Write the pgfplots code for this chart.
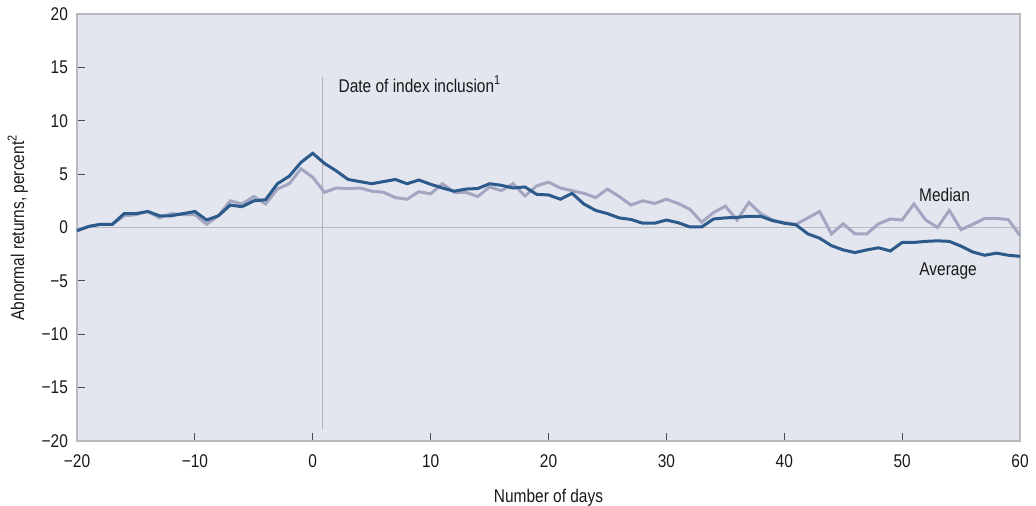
\documentclass[border=0pt]{standalone}
\usepackage{pgfplots}
\pgfplotsset{compat=1.18}
\usepackage{fontspec}
\setmainfont{Liberation Sans}[FakeStretch=0.84]
\definecolor{bgc}{HTML}{E4E6EF}
\definecolor{avgc}{HTML}{2B5A8B}
\definecolor{medc}{HTML}{A3A6C0}
\definecolor{framec}{HTML}{B9BAC0}
\newcommand{\lf}{\fontsize{9.2}{11}\selectfont}
\begin{document}
\begin{tikzpicture}
\begin{axis}[
  scale only axis, width=471.5pt, height=213.5pt,
  xmin=-20, xmax=60, ymin=-20, ymax=20,
  axis background/.style={fill=bgc},
  axis line style={framec, line width=1.3pt},
  xtick={-20,-10,0,10,20,30,40,50,60},
  xticklabels={−20,−10,0,10,20,30,40,50,60},
  ytick={-20,-15,-10,-5,0,5,10,15,20},
  yticklabels={−20,−15,−10,−5,0,5,10,15,20},
  xtick pos=bottom, ytick pos=left,
  tick align=inside,
  major tick length=4pt,
  tick style={color=black!70, line width=0.6pt},
  ticklabel style={font=\lf, text=black!90},
  xticklabel style={yshift=-3.5pt},
  yticklabel style={xshift=-1pt},
  xlabel={Number of days},
  ylabel={Abnormal returns, percent\textsuperscript{2}},
  label style={font=\lf, text=black!90},
  xlabel style={yshift=-3.5pt},
  ylabel style={yshift=0pt},
  clip=false,
]
\addplot[framec, line width=0.6pt, forget plot] coordinates {(-20,0) (60,0)};
\addplot[black!30, line width=0.6pt, forget plot] coordinates {(0.8,14.1) (0.8,-18.9)};
\addplot[medc, line width=1.5pt] coordinates {
(-20,-0.3) (-19,0.1) (-18,0.3) (-17,0.3) (-16,1.1) (-15,1.2) (-14,1.5) (-13,0.9) (-12,1.3) (-11,1.2)
(-10,1.2) (-9,0.3) (-8,1.1) (-7,2.5) (-6,2.2) (-5,2.9) (-4,2.2) (-3,3.6) (-2,4.1) (-1,5.5)
(0,4.7) (1,3.3) (2,3.7) (3,3.65) (4,3.7) (5,3.4) (6,3.3) (7,2.8) (8,2.65) (9,3.35)
(10,3.15) (11,4.1) (12,3.3) (13,3.3) (14,2.9) (15,3.8) (16,3.45) (17,4.1) (18,2.95) (19,3.9)
(20,4.25) (21,3.7) (22,3.45) (23,3.2) (24,2.8) (25,3.6) (26,2.9) (27,2.1) (28,2.5) (29,2.25)
(30,2.65) (31,2.25) (32,1.7) (33,0.5) (34,1.4) (35,2.0) (36,0.7) (37,2.35) (38,1.3) (39,0.7)
(40,0.45) (41,0.3) (42,0.9) (43,1.5) (44,-0.6) (45,0.35) (46,-0.6) (47,-0.6) (48,0.35) (49,0.8)
(50,0.7) (51,2.2) (52,0.7) (53,0) (54,1.6) (55,-0.2) (56,0.3) (57,0.85) (58,0.85) (59,0.75)
(60,-0.75)};
\addplot[avgc, line width=1.5pt] coordinates {
(-20,-0.3) (-19,0.1) (-18,0.3) (-17,0.3) (-16,1.3) (-15,1.3) (-14,1.5) (-13,1.1) (-12,1.1) (-11,1.3)
(-10,1.5) (-9,0.7) (-8,1.1) (-7,2.1) (-6,1.95) (-5,2.5) (-4,2.6) (-3,4.1) (-2,4.8) (-1,6.1)
(0,6.95) (1,6.0) (2,5.3) (3,4.5) (4,4.3) (5,4.1) (6,4.3) (7,4.5) (8,4.1) (9,4.45)
(10,4.05) (11,3.7) (12,3.4) (13,3.6) (14,3.65) (15,4.1) (16,3.95) (17,3.7) (18,3.8) (19,3.1)
(20,3.05) (21,2.65) (22,3.2) (23,2.2) (24,1.6) (25,1.3) (26,0.9) (27,0.75) (28,0.4) (29,0.4)
(30,0.7) (31,0.45) (32,0.05) (33,0.05) (34,0.8) (35,0.9) (36,0.95) (37,1.05) (38,1.05) (39,0.65)
(40,0.4) (41,0.25) (42,-0.6) (43,-1.0) (44,-1.7) (45,-2.1) (46,-2.35) (47,-2.1) (48,-1.9) (49,-2.2)
(50,-1.4) (51,-1.4) (52,-1.3) (53,-1.25) (54,-1.3) (55,-1.75) (56,-2.3) (57,-2.6) (58,-2.4) (59,-2.6)
(60,-2.7)};
\node[font=\lf, text=black!90, anchor=west] at (axis cs:1.6,13.4) {Date of index inclusion\textsuperscript{1}};
\node[font=\lf, text=black!90] at (axis cs:53.6,3.05) {Median};
\node[font=\lf, text=black!90] at (axis cs:53.9,-4.1) {Average};
\end{axis}
\pgfresetboundingbox
\path ([shift={(-38.5pt,-32.5pt)}]current axis.south west) rectangle ([shift={(8pt,7pt)}]current axis.north east);
\end{tikzpicture}
\end{document}
